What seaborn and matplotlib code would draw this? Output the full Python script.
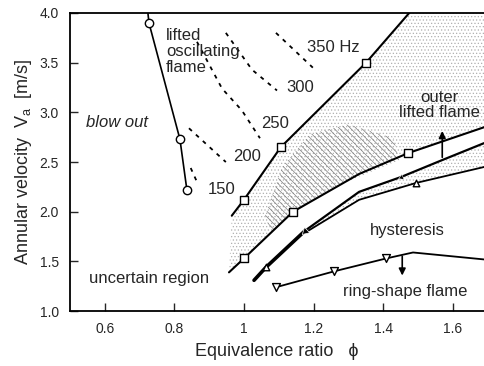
import numpy as np
import pandas as pd
import seaborn as sns
import matplotlib.pyplot as plt

# 吹き消え限界 (blow out)
blow_phi = [0.724, 0.727, 0.816, 0.836]
blow_v = [4.00, 3.90, 2.73, 2.22]
blow_pt_phi = [0.727, 0.816, 0.836]
blow_pt_v = [3.90, 2.73, 2.22]

# lifted oscillating flame 上界 (squares)
upper_phi = [0.965, 1.000, 1.106, 1.351, 1.475]
upper_v = [1.96, 2.12, 2.65, 3.50, 4.00]
upper_pt_phi = [1.000, 1.106, 1.351]
upper_pt_v = [2.12, 2.65, 3.50]

# 中間の境界 (squares)
mid_phi = [0.957, 1.000, 1.141, 1.331, 1.472, 1.690]
mid_v = [1.39, 1.53, 2.00, 2.38, 2.59, 2.85]
mid_pt_phi = [1.000, 1.141, 1.472]
mid_pt_v = [1.53, 2.00, 2.59]

# hysteresis の二本
stem_phi = [1.029, 1.063, 1.176]
stem_v = [1.31, 1.44, 1.81]
outer_phi = [1.176, 1.331, 1.452, 1.570, 1.690]
outer_v = [1.81, 2.20, 2.35, 2.52, 2.69]
inner_phi = [1.176, 1.331, 1.495, 1.690]
inner_v = [1.79, 2.12, 2.29, 2.45]
tri_pt_phi = [1.063, 1.495]
tri_pt_v = [1.44, 2.29]

# ring-shape flame 境界 (down triangles)
ring_phi = [1.092, 1.259, 1.409, 1.486, 1.690]
ring_v = [1.24, 1.40, 1.53, 1.59, 1.52]
ring_pt_phi = [1.092, 1.259, 1.409]
ring_pt_v = [1.24, 1.40, 1.53]

# 等周波数線 (dashed)
iso_labels = ['150', '200', '250', '300', '350 Hz']
iso_phi = [[0.847, 0.865], [0.842, 0.948], [0.865, 0.937, 0.994, 1.046],
           [0.948, 1.023, 1.095], [1.092, 1.198]]
iso_v = [[2.44, 2.30], [2.84, 2.50], [3.71, 3.24, 3.02, 2.74],
         [3.80, 3.43, 3.22], [3.80, 3.45]]
iso_lab_phi = [0.937, 1.009, 1.089, 1.161, 1.256]
iso_lab_v = [2.22, 2.56, 2.89, 3.25, 3.65]

# 濃いハッチ領域
dense_phi = [1.060, 1.110, 1.190, 1.300, 1.430, 1.446, 1.273, 1.144, 1.080]
dense_v = [1.95, 2.45, 2.78, 2.88, 2.74, 2.52, 2.27, 2.00, 1.80]

sns.set_style("ticks")
plt.rcParams['font.family'] = ['Liberation Sans', 'DejaVu Sans']
plt.rcParams['mathtext.fontset'] = 'custom'
plt.rcParams['mathtext.rm'] = 'Liberation Sans'
plt.rcParams['hatch.linewidth'] = 0.5

fig = plt.figure(figsize=(4.84, 3.66), dpi=100)
ax = fig.add_axes([0.1446, 0.150, 0.8554, 0.8145])

# 点描領域
poly_phi = upper_phi + [1.69] + mid_phi[::-1]
poly_v = upper_v + [4.0] + mid_v[::-1]
ax.fill(poly_phi, poly_v, facecolor='none', edgecolor='#b0b0b0', hatch='.....', lw=0)
ax.fill(dense_phi, dense_v, facecolor='none', edgecolor='#7a7a7a', hatch='\\\\\\\\\\\\', lw=0)
ax.fill(outer_phi + inner_phi[::-1], outer_v + inner_v[::-1], facecolor='none',
        edgecolor='#b0b0b0', hatch='.....', lw=0)

# 線
sns.lineplot(x=blow_phi, y=blow_v, sort=False, color='black', lw=1.2, ax=ax)
sns.lineplot(x=upper_phi, y=upper_v, sort=False, color='black', lw=1.5, ax=ax)
sns.lineplot(x=mid_phi, y=mid_v, sort=False, color='black', lw=1.5, ax=ax)
sns.lineplot(x=stem_phi, y=stem_v, sort=False, color='black', lw=2.6, ax=ax)
sns.lineplot(x=outer_phi, y=outer_v, sort=False, color='black', lw=1.6, ax=ax)
sns.lineplot(x=inner_phi, y=inner_v, sort=False, color='black', lw=1.3, ax=ax)
sns.lineplot(x=ring_phi, y=ring_v, sort=False, color='black', lw=1.3, ax=ax)
for px, py in zip(iso_phi, iso_v):
    sns.lineplot(x=px, y=py, sort=False, color='black', lw=1.3, ls=(0, (2.2, 3.0)), ax=ax)

# マーカー
sns.scatterplot(x=blow_pt_phi, y=blow_pt_v, marker='o', s=36, facecolor='white',
                edgecolor='black', linewidth=1, ax=ax, zorder=5)
sns.scatterplot(x=upper_pt_phi + mid_pt_phi, y=upper_pt_v + mid_pt_v, marker='s', s=32,
                facecolor='white', edgecolor='black', linewidth=1, ax=ax, zorder=5)
sns.scatterplot(x=tri_pt_phi, y=tri_pt_v, marker='^', s=22, facecolor='white',
                edgecolor='black', linewidth=1, ax=ax, zorder=5)
sns.scatterplot(x=ring_pt_phi, y=ring_pt_v, marker='v', s=32, facecolor='white',
                edgecolor='black', linewidth=1, ax=ax, zorder=5)
sns.scatterplot(x=[1.176], y=[1.81], marker=(3, 0, 133), s=40, color='black', ax=ax, zorder=5)
sns.scatterplot(x=[1.452], y=[2.35], marker=(3, 0, 112), s=20, color='black', ax=ax, zorder=5)

# 矢印
ax.annotate('', xy=(1.455, 1.33), xytext=(1.455, 1.58),
            arrowprops=dict(arrowstyle='-|>', color='black', lw=1.2, mutation_scale=10))
ax.annotate('', xy=(1.57, 2.84), xytext=(1.57, 2.52),
            arrowprops=dict(arrowstyle='-|>', color='black', lw=1.2, mutation_scale=10))

# 文字
for lab, x, y in zip(iso_labels, iso_lab_phi, iso_lab_v):
    ax.text(x, y, lab, fontsize=12, ha='center', va='center')
ax.text(0.776, 3.61, 'lifted\noscillating\nflame', fontsize=12, ha='left', va='center',
        linespacing=1.1)
ax.text(0.545, 2.90, 'blow out', fontsize=12, style='italic', ha='left', va='center')
ax.text(0.727, 1.33, 'uncertain region', fontsize=12, ha='center', va='center')
ax.text(1.469, 1.81, 'hysteresis', fontsize=12, ha='center', va='center')
ax.text(1.463, 1.20, 'ring-shape flame', fontsize=12, ha='center', va='center')
ax.text(1.561, 3.07, 'outer\nlifted flame', fontsize=12, ha='center', va='center',
        linespacing=1.0, clip_on=False)

ax.set_xlim(0.5, 1.69)
ax.set_ylim(1.0, 4.0)
ax.set_xticks([0.6, 0.8, 1.0, 1.2, 1.4, 1.6])
ax.set_xticklabels(['0.6', '0.8', '1', '1.2', '1.4', '1.6'])
ax.set_yticks(np.arange(1.0, 4.01, 0.5))
ax.set_yticklabels(['%.1f' % v for v in np.arange(1.0, 4.01, 0.5)])
ax.tick_params(direction='in', length=6, width=1, labelsize=10, pad=8)
ax.spines['right'].set_visible(False)
for s in ['left', 'bottom', 'top']:
    ax.spines[s].set_linewidth(1.3)
    ax.spines[s].set_color('black')
ax.set_xlabel('Equivalence ratio   \u03d5', fontsize=13, labelpad=5)
ax.set_ylabel('Annular velocity  V$_\\mathrm{a}$  [m/s]', fontsize=13, labelpad=4)

fig.savefig('out.png', dpi=100)
